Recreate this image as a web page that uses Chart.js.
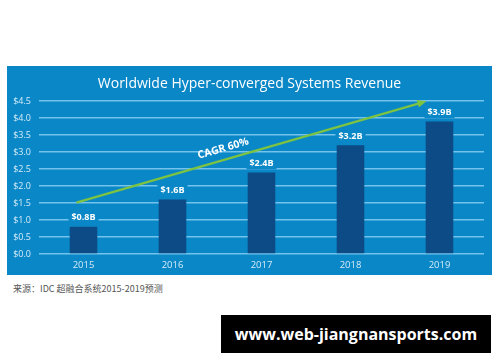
<!DOCTYPE html>
<html>
<head>
<meta charset="utf-8">
<script src="https://cdn.jsdelivr.net/npm/chart.js@4"></script>
<style>
  body { margin: 0; background: #fff; width: 500px; height: 362px; position: relative; overflow: hidden; font-family: "Open Sans", sans-serif; }
  #panel { position: absolute; left: 7px; top: 66px; width: 485px; height: 209px; background: #0a87c7; }
  #title { position: absolute; left: 0; right: 0; top: 7px; text-align: center; color: #fff; font-size: 14px; }
  #chartBox { position: absolute; left: 0; top: 0; width: 485px; height: 209px; }
  #source { position: absolute; left: 13px; top: 282px; font-family: "Noto Sans CJK SC", sans-serif; font-size: 9px; color: #555; }
  #mark { position: absolute; left: 221px; top: 315px; width: 270px; height: 38px; background: #000; color: #fff; font-weight: bold; font-size: 16px; line-height: 38px; text-align: center; }
</style>
</head>
<body>
<div id="panel">
  <div id="chartBox"><canvas id="revChart" width="485" height="209"></canvas></div>
  <div id="title">Worldwide Hyper-converged Systems Revenue</div>
</div>
<div id="source">来源：IDC 超融合系统2015-2019预测</div>
<div id="mark">www.web-jiangnansports.com</div>
<script>
// data
const years = ['2015', '2016', '2017', '2018', '2019'];
const revenue = [0.8, 1.6, 2.4, 3.2, 3.9];
const revenueLabels = ['$0.8B', '$1.6B', '$2.4B', '$3.2B', '$3.9B'];
const trendX = [-0.08, 3.81];   // category index
const trendY = [1.51, 4.46];
const trendText = 'CAGR 60%';

const panelBlue = '#0a87c7';

// labels over bars with a panel-coloured box so the grid stops behind them
const barLabels = {
    id: 'barLabels',
    afterDatasetsDraw(chart) {
        const ctx = chart.ctx;
        const meta = chart.getDatasetMeta(0);
        ctx.save();
        ctx.font = 'bold 9px "Open Sans"';
        ctx.textAlign = 'center';
        ctx.textBaseline = 'middle';
        meta.data.forEach((bar, i) => {
            const txt = revenueLabels[i];
            const w = ctx.measureText(txt).width + 6;
            const y = bar.y - 9;
            ctx.fillStyle = panelBlue;
            ctx.fillRect(bar.x - w / 2, y - 6, w, 12);
            ctx.fillStyle = '#ffffff';
            ctx.fillText(txt, bar.x, y);
        });
        ctx.restore();
    }
};

// arrow head + CAGR text on the trend line
const trendDecor = {
    id: 'trendDecor',
    afterDatasetsDraw(chart) {
        const pts = chart.getDatasetMeta(1).data;
        if (pts.length < 2) return;
        const p0 = pts[0], p1 = pts[1];
        const ang = Math.atan2(p1.y - p0.y, p1.x - p0.x);
        const ctx = chart.ctx;
        ctx.save();
        ctx.fillStyle = '#7cc243';
        ctx.translate(p1.x, p1.y);
        ctx.rotate(ang);
        ctx.beginPath();
        ctx.moveTo(4, 0);
        ctx.lineTo(-5, -4);
        ctx.lineTo(-5, 4);
        ctx.closePath();
        ctx.fill();
        ctx.restore();

        const t = 0.433;
        const mx = p0.x + (p1.x - p0.x) * t;
        const my = p0.y + (p1.y - p0.y) * t;
        ctx.save();
        ctx.translate(mx, my);
        ctx.rotate(ang);
        ctx.font = 'bold 10.5px "Open Sans"';
        ctx.fillStyle = '#ffffff';
        ctx.textAlign = 'center';
        ctx.textBaseline = 'middle';
        ctx.fillText(trendText, 0, -11);
        ctx.restore();
    }
};

const ctx = document.getElementById('revChart').getContext('2d');
new Chart(ctx, {
    data: {
        labels: years,
        datasets: [{
            type: 'bar',
            data: revenue,
            backgroundColor: '#0d4b86',
            barPercentage: 0.31,
            categoryPercentage: 1,
            grouped: false,
            order: 2
        }, {
            type: 'line',
            xAxisID: 'x2',
            data: trendX.map((x, i) => ({ x: x, y: trendY[i] })),
            borderColor: '#7cc243',
            borderWidth: 2.5,
            pointRadius: 0,
            order: 1
        }]
    },
    options: {
        responsive: false,
        animation: false,
        layout: { padding: { top: 35, right: 8, left: 0, bottom: 0 } },
        plugins: {
            legend: { display: false },
            tooltip: { enabled: false }
        },
        scales: {
            x: {
                grid: { display: false, drawTicks: false },
                border: { display: false },
                ticks: { color: '#d6ecf8', font: { family: 'Open Sans', size: 9.5 }, padding: 6 },
                afterFit: s => { s.height = 21; }
            },
            x2: {
                type: 'linear',
                display: false,
                min: -0.5,
                max: 4.5
            },
            y: {
                min: 0,
                max: 4.5,
                border: { display: false },
                grid: { color: '#74c3ec', lineWidth: 1.5, drawTicks: false },
                ticks: {
                    stepSize: 0.5,
                    color: '#d6ecf8',
                    font: { family: 'Open Sans', size: 9 },
                    padding: 8,
                    callback: v => '$' + v.toFixed(1)
                },
                afterFit: s => { s.width = 32; }
            }
        }
    },
    plugins: [barLabels, trendDecor]
});
</script>
</body>
</html>
